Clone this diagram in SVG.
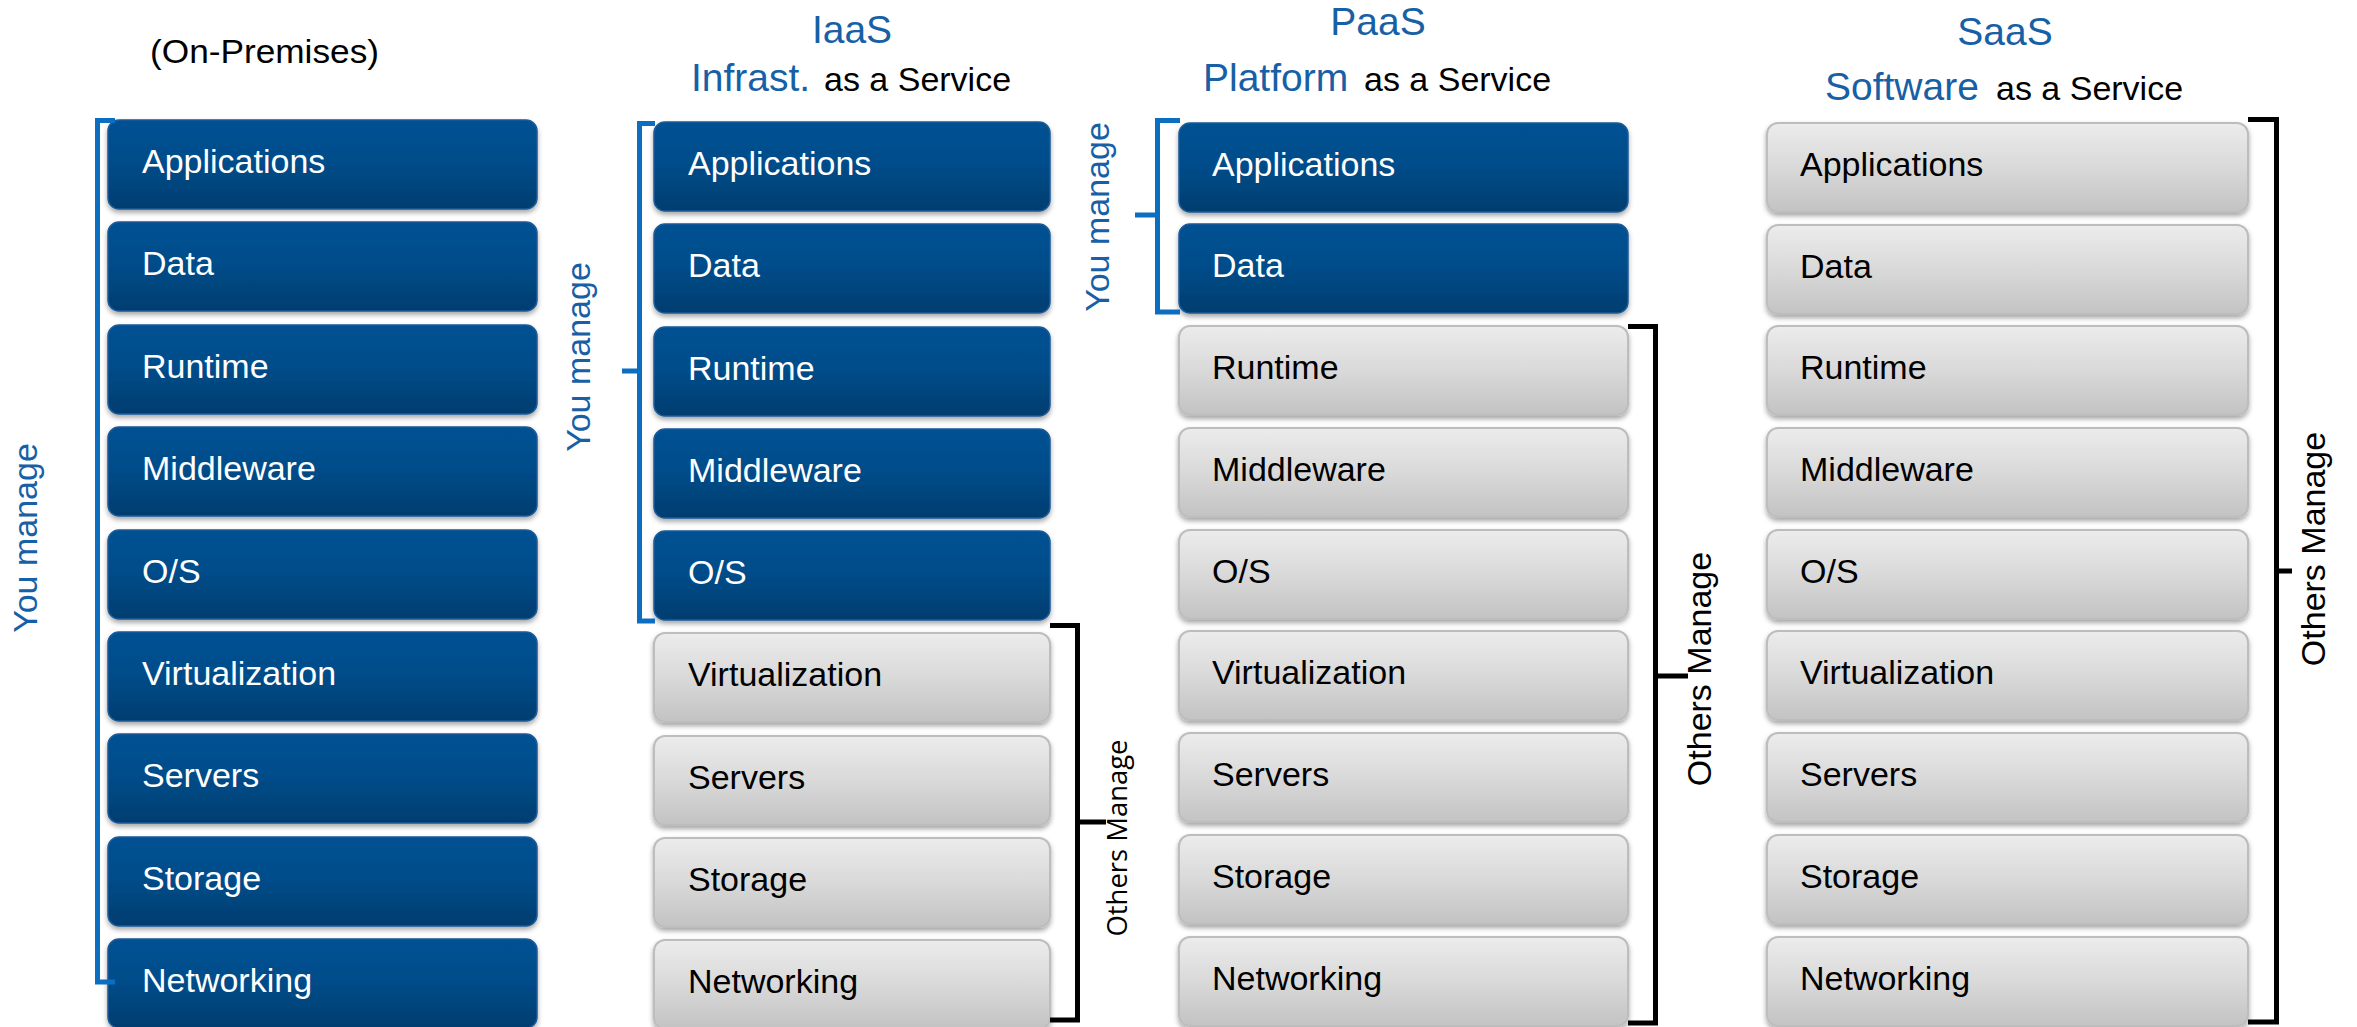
<svg xmlns="http://www.w3.org/2000/svg" width="2357" height="1027" viewBox="0 0 2357 1027">
  <defs>
    <linearGradient id="gBlue" x1="0" y1="0" x2="0" y2="1">
      <stop offset="0" stop-color="#035192"/>
      <stop offset="0.45" stop-color="#024d8b"/>
      <stop offset="1" stop-color="#003d6f"/>
    </linearGradient>
    <linearGradient id="gGray" x1="0" y1="0" x2="0" y2="1">
      <stop offset="0" stop-color="#ececec"/>
      <stop offset="0.5" stop-color="#d9d9d9"/>
      <stop offset="1" stop-color="#c3c3c3"/>
    </linearGradient>
    <filter id="shadow" x="-5%" y="-10%" width="110%" height="130%">
      <feDropShadow dx="0" dy="3" stdDeviation="2.5" flood-color="#000" flood-opacity="0.35"/>
    </filter>
  </defs>
  <style>
    text { font-family: "Liberation Sans", Arial, sans-serif; }
    .blue rect { fill: url(#gBlue); stroke: #1a5a98; stroke-width: 1.5; filter: url(#shadow); }
    .gray rect { fill: url(#gGray); stroke: #bdbdbd; stroke-width: 2; filter: url(#shadow); }
    .blue text { fill: #ffffff; font-size: 34px; }
    .gray text { fill: #000000; font-size: 34px; }
    .hdr { font-size: 39px; fill: #1760a6; }
    .sub { font-size: 34px; fill: #000000; }
    .you { font-size: 34px; fill: #1760a6; }
    .others { font-size: 34px; fill: #000000; }
    .othersSm { font-family: "Open Sans", "Noto Sans", sans-serif; font-size: 27px; fill: #000000; }
    .bBlue { fill: none; stroke: #0b6ec0; stroke-width: 5; }
    .bBlack { fill: none; stroke: #000000; stroke-width: 5; }
  </style>

  <rect width="2357" height="1027" fill="#ffffff"/>

  <!-- column headings -->
  <g id="headings">
    <text x="150" y="63" class="sub" textLength="229" lengthAdjust="spacingAndGlyphs">(On-Premises)</text>
    <text x="852" y="43" class="hdr" text-anchor="middle">IaaS</text>
    <text x="691" y="91"><tspan class="hdr">Infrast.</tspan><tspan class="sub" x="824">as a Service</tspan></text>
    <text x="1378" y="35" class="hdr" text-anchor="middle">PaaS</text>
    <text x="1203" y="91"><tspan class="hdr">Platform</tspan><tspan class="sub" x="1364">as a Service</tspan></text>
    <text x="2005" y="45" class="hdr" text-anchor="middle">SaaS</text>
    <text x="1825" y="100"><tspan class="hdr">Software</tspan><tspan class="sub" x="1996">as a Service</tspan></text>
  </g>

  <!-- On-Premises stack -->
  <g id="onprem-applications" class="blue"><rect x="108" y="120" width="429" height="89" rx="11"/><text x="142" y="173">Applications</text></g>
  <g id="onprem-data" class="blue"><rect x="108" y="222" width="429" height="89" rx="11"/><text x="142" y="275">Data</text></g>
  <g id="onprem-runtime" class="blue"><rect x="108" y="325" width="429" height="89" rx="11"/><text x="142" y="378">Runtime</text></g>
  <g id="onprem-middleware" class="blue"><rect x="108" y="427" width="429" height="89" rx="11"/><text x="142" y="480">Middleware</text></g>
  <g id="onprem-os" class="blue"><rect x="108" y="530" width="429" height="89" rx="11"/><text x="142" y="583">O/S</text></g>
  <g id="onprem-virtualization" class="blue"><rect x="108" y="632" width="429" height="89" rx="11"/><text x="142" y="685">Virtualization</text></g>
  <g id="onprem-servers" class="blue"><rect x="108" y="734" width="429" height="89" rx="11"/><text x="142" y="787">Servers</text></g>
  <g id="onprem-storage" class="blue"><rect x="108" y="837" width="429" height="89" rx="11"/><text x="142" y="890">Storage</text></g>
  <g id="onprem-networking" class="blue"><rect x="108" y="939" width="429" height="89" rx="11"/><text x="142" y="992">Networking</text></g>

  <!-- IaaS stack -->
  <g id="iaas-applications" class="blue"><rect x="654" y="122" width="396" height="89" rx="11"/><text x="688" y="175">Applications</text></g>
  <g id="iaas-data" class="blue"><rect x="654" y="224" width="396" height="89" rx="11"/><text x="688" y="277">Data</text></g>
  <g id="iaas-runtime" class="blue"><rect x="654" y="327" width="396" height="89" rx="11"/><text x="688" y="380">Runtime</text></g>
  <g id="iaas-middleware" class="blue"><rect x="654" y="429" width="396" height="89" rx="11"/><text x="688" y="482">Middleware</text></g>
  <g id="iaas-os" class="blue"><rect x="654" y="531" width="396" height="89" rx="11"/><text x="688" y="584">O/S</text></g>
  <g id="iaas-virtualization" class="gray"><rect x="654" y="633" width="396" height="89" rx="11"/><text x="688" y="686">Virtualization</text></g>
  <g id="iaas-servers" class="gray"><rect x="654" y="736" width="396" height="89" rx="11"/><text x="688" y="789">Servers</text></g>
  <g id="iaas-storage" class="gray"><rect x="654" y="838" width="396" height="89" rx="11"/><text x="688" y="891">Storage</text></g>
  <g id="iaas-networking" class="gray"><rect x="654" y="940" width="396" height="89" rx="11"/><text x="688" y="993">Networking</text></g>

  <!-- PaaS stack -->
  <g id="paas-applications" class="blue"><rect x="1179" y="123" width="449" height="89" rx="11"/><text x="1212" y="176">Applications</text></g>
  <g id="paas-data" class="blue"><rect x="1179" y="224" width="449" height="89" rx="11"/><text x="1212" y="277">Data</text></g>
  <g id="paas-runtime" class="gray"><rect x="1179" y="326" width="449" height="89" rx="11"/><text x="1212" y="379">Runtime</text></g>
  <g id="paas-middleware" class="gray"><rect x="1179" y="428" width="449" height="89" rx="11"/><text x="1212" y="481">Middleware</text></g>
  <g id="paas-os" class="gray"><rect x="1179" y="530" width="449" height="89" rx="11"/><text x="1212" y="583">O/S</text></g>
  <g id="paas-virtualization" class="gray"><rect x="1179" y="631" width="449" height="89" rx="11"/><text x="1212" y="684">Virtualization</text></g>
  <g id="paas-servers" class="gray"><rect x="1179" y="733" width="449" height="89" rx="11"/><text x="1212" y="786">Servers</text></g>
  <g id="paas-storage" class="gray"><rect x="1179" y="835" width="449" height="89" rx="11"/><text x="1212" y="888">Storage</text></g>
  <g id="paas-networking" class="gray"><rect x="1179" y="937" width="449" height="89" rx="11"/><text x="1212" y="990">Networking</text></g>

  <!-- SaaS stack -->
  <g id="saas-applications" class="gray"><rect x="1767" y="123" width="481" height="89" rx="11"/><text x="1800" y="176">Applications</text></g>
  <g id="saas-data" class="gray"><rect x="1767" y="225" width="481" height="89" rx="11"/><text x="1800" y="278">Data</text></g>
  <g id="saas-runtime" class="gray"><rect x="1767" y="326" width="481" height="89" rx="11"/><text x="1800" y="379">Runtime</text></g>
  <g id="saas-middleware" class="gray"><rect x="1767" y="428" width="481" height="89" rx="11"/><text x="1800" y="481">Middleware</text></g>
  <g id="saas-os" class="gray"><rect x="1767" y="530" width="481" height="89" rx="11"/><text x="1800" y="583">O/S</text></g>
  <g id="saas-virtualization" class="gray"><rect x="1767" y="631" width="481" height="89" rx="11"/><text x="1800" y="684">Virtualization</text></g>
  <g id="saas-servers" class="gray"><rect x="1767" y="733" width="481" height="89" rx="11"/><text x="1800" y="786">Servers</text></g>
  <g id="saas-storage" class="gray"><rect x="1767" y="835" width="481" height="89" rx="11"/><text x="1800" y="888">Storage</text></g>
  <g id="saas-networking" class="gray"><rect x="1767" y="937" width="481" height="89" rx="11"/><text x="1800" y="990">Networking</text></g>

  <!-- brackets marking who manages which layers -->
  <g id="connectors">
    <path class="bBlue" d="M115,120.5 H97.5 V982 H115"/>
    <path class="bBlue" d="M655,123.5 H639.5 V621 H655 M639.5,371 H622"/>
    <path class="bBlue" d="M1180,120.5 H1157.5 V312 H1180 M1157.5,215 H1135"/>
    <path class="bBlack" d="M1050,625.5 H1077.5 V1020 H1050 M1077.5,822 H1106"/>
    <path class="bBlack" d="M1628,326.5 H1655.5 V1023 H1628 M1655.5,676 H1688"/>
    <path class="bBlack" d="M2248,119.5 H2276.5 V1022 H2248 M2276.5,571 H2292"/>
  </g>

  <!-- bracket labels -->
  <g id="labels">
    <text class="you" text-anchor="middle" transform="translate(37,538) rotate(-90)">You manage</text>
    <text class="you" text-anchor="middle" transform="translate(590,357) rotate(-90)">You manage</text>
    <text class="you" text-anchor="middle" transform="translate(1109,217) rotate(-90)">You manage</text>
    <text class="othersSm" text-anchor="middle" textLength="197" lengthAdjust="spacingAndGlyphs" transform="translate(1127,838) rotate(-90)">Others Manage</text>
    <text class="others" text-anchor="middle" transform="translate(1711,669) rotate(-90)">Others Manage</text>
    <text class="others" text-anchor="middle" transform="translate(2325,549) rotate(-90)">Others Manage</text>
  </g>
</svg>
